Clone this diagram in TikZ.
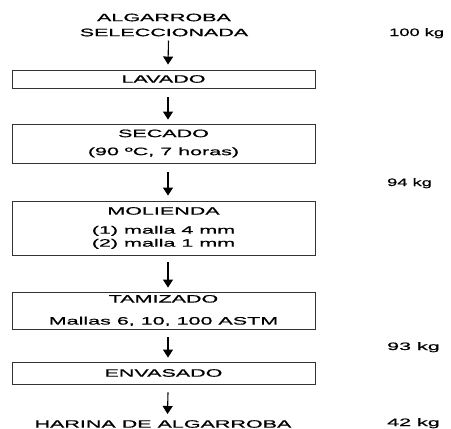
\documentclass[tikz,border=0pt]{standalone}
\usepackage{fontspec}
\setmainfont{Liberation Sans}[FakeStretch=2, FakeBold=0.8]
\newfontfamily\kgfont{Liberation Sans}[FakeStretch=1.7, FakeBold=0.8]
\usetikzlibrary{arrows.meta}
\begin{document}
\fontsize{10.75}{13}\selectfont
\begin{tikzpicture}[x=1pt,y=-1pt,
  box/.style={draw=black!80, line width=0.9pt, minimum width=303pt, inner sep=0pt, align=center},
  arr/.style={-{Triangle[length=8pt,width=10pt]}, line width=1.1pt},
  lbl/.style={anchor=base west, inner sep=0pt},
  plain/.style={inner sep=0pt, align=center}]
\useasboundingbox (0,0) rectangle (451,429);
\node[plain] (alg) at (164,25) {ALGARROBA\\[2pt]SELECCIONADA};
\node[box, minimum height=18pt] (lav) at (163.5,79) {LAVADO};
\node[box, minimum height=39pt] (sec) at (163.5,143.5) {SECADO\\[5pt](90 ºC, 7 horas)};
\node[box, minimum height=54pt] (mol) at (163.5,228) {MOLIENDA\\[6pt](1) malla 4 mm\\(2) malla 1 mm};
\node[box, minimum height=37pt] (tam) at (163.5,310.5) {TAMIZADO\\[9pt]Mallas 6, 10, 100 ASTM};
\node[box, minimum height=22pt] (env) at (163.5,373) {ENVASADO};
\node[plain] (har) at (163,424) {HARINA DE ALGARROBA};
\draw[arr] ([xshift=4.5pt,yshift=-4pt]alg.south) -- ([xshift=4.5pt,yshift=5pt]lav.north);
\draw[arr] ([xshift=4.5pt,yshift=-9pt]lav.south) -- ([xshift=4.5pt,yshift=4pt]sec.north);
\draw[arr] ([xshift=4.5pt,yshift=-9pt]sec.south) -- ([xshift=4.5pt,yshift=5pt]mol.north);
\draw[arr] ([xshift=4.5pt,yshift=-7pt]mol.south) -- ([xshift=4.5pt,yshift=4pt]tam.north);
\draw[arr] ([xshift=4.5pt,yshift=-8pt]tam.south) -- ([xshift=4.5pt,yshift=4pt]env.north);
\draw[arr] ([xshift=4.5pt,yshift=-8pt]env.south) -- ([xshift=4.5pt,yshift=6pt]har.north);
\node[lbl] (k100) at (389,36) {\kgfont 100 kg};
\node[lbl] (k94) at (387,186) {\kgfont 94 kg};
\node[lbl] (k93) at (387,350) {93 kg};
\node[lbl] (k42) at (387,426) {42 kg};
\end{tikzpicture}
\end{document}
